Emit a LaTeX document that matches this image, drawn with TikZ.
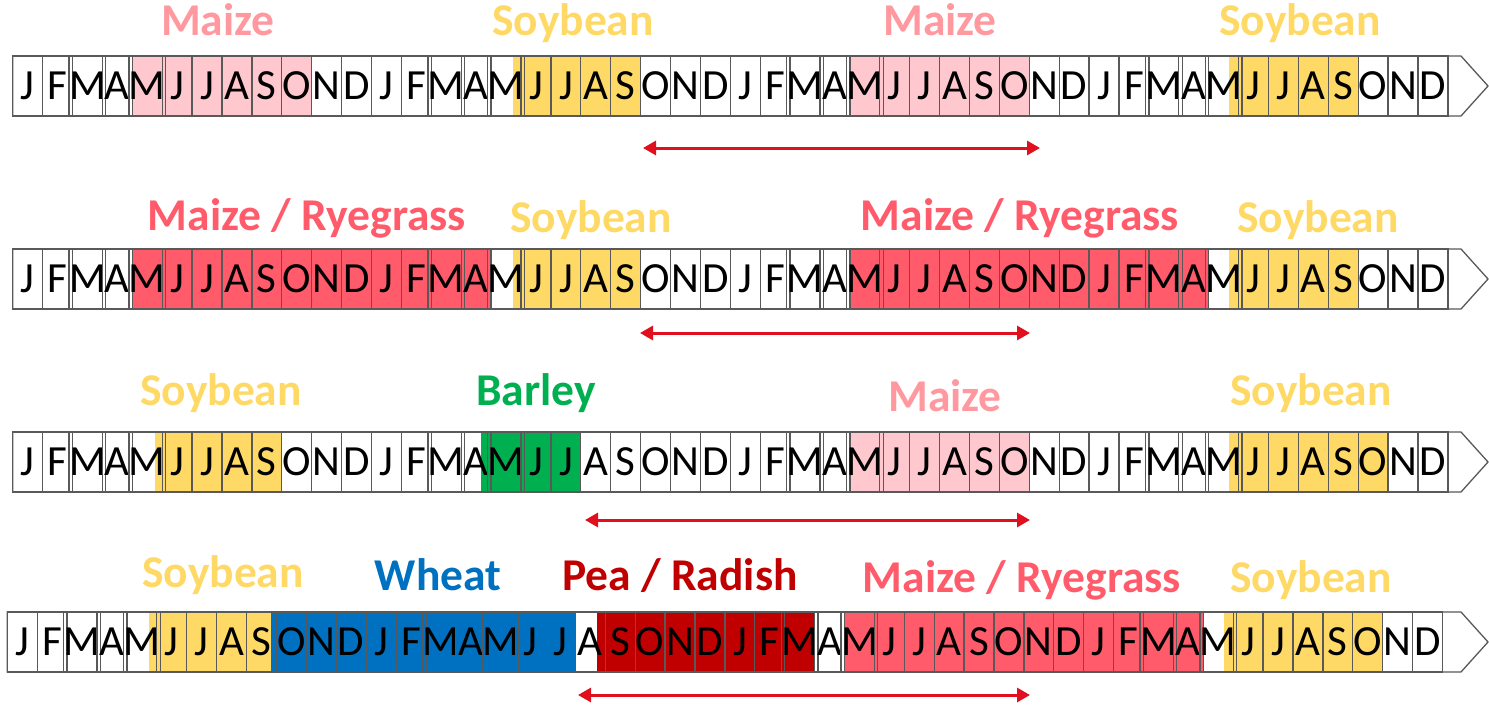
\documentclass[tikz,border=0pt]{standalone}
\usepackage{fontspec}
\setmainfont{Carlito}
\usetikzlibrary{arrows.meta}

\definecolor{cellgray}{HTML}{595959}
\definecolor{maizefill}{HTML}{FFC7CE}
\definecolor{maizetext}{HTML}{FF999F}
\definecolor{soyfill}{HTML}{FFD966}
\definecolor{ryefill}{HTML}{FF5B6B}
\definecolor{barleyfill}{HTML}{00B050}
\definecolor{wheatfill}{HTML}{0070C0}
\definecolor{peafill}{HTML}{C00000}
\definecolor{spanred}{HTML}{E0101E}

% width of one month cell
\def\cw{29.9}

\tikzset{
  cell/.style={draw=cellgray, line width=1.3pt, minimum width=29.9pt,
    minimum height=60pt, inner sep=0pt, text height=27pt, text depth=0pt,
    font=\fontsize{43}{43}\selectfont},
  crop/.style={anchor=base, inner sep=0pt, font=\bfseries\fontsize{45.5}{45.5}\selectfont},
  timeline/.style={draw=cellgray, line width=1.3pt, fill=white},
  span/.style={draw=spanred, line width=3pt,
    {Triangle[length=13pt,width=14pt]}-{Triangle[length=13pt,width=14pt]}}
}

% arrow-shaped strip behind a row of months: #1 left x, #2 top y
\newcommand\stripbody[2]{%
  \draw[timeline] (#1,#2) -- (1461,#2) -- (1488,#2+30) -- (1461,#2+60) -- (#1,#2+60) -- cycle;}

% coloured growing period: #1 left x, #2 top y, #3 start cell, #4 end cell, #5 colour
\newcommand\season[5]{%
  \fill[#5] ({#1+#3*\cw},#2) rectangle ({#1+#4*\cw},#2+60);}

% the 48 month cells of one row: #1 name prefix, #2 left x, #3 top y
\newcommand\monthrow[3]{%
  \foreach \m [count=\i] in {J,F,M,A,M,J,J,A,S,O,N,D,J,F,M,A,M,J,J,A,S,O,N,D,%
                             J,F,M,A,M,J,J,A,S,O,N,D,J,F,M,A,M,J,J,A,S,O,N,D}
    \node[cell] (#1c\i) at ({#2+(\i-0.5)*\cw},{#3+30}) {\m};}

\begin{document}
\begin{tikzpicture}[x=1pt, y=-1pt]
\useasboundingbox (0,0) rectangle (1489,709);

% ---- row 1: maize / soybean
\stripbody{12.7}{56}
\season{12.7}{56}{4}{10}{maizefill}
\season{12.7}{56}{16.73}{21}{soyfill}
\season{12.7}{56}{28}{34}{maizefill}
\season{12.7}{56}{40.68}{45}{soyfill}
\monthrow{a}{12.7}{56}
\node[crop, text=maizetext] (a1) at (218,36) {Maize};
\node[crop, text=soyfill] (a2) at (573,36) {Soybean};
\node[crop, text=maizetext] (a3) at (940,36) {Maize};
\node[crop, text=soyfill] (a4) at (1300,36) {Soybean};
\coordinate (aL) at (643,148);
\coordinate (aR) at (1040,148);
\draw[span] (aL) -- (aR);

% ---- row 2: maize with ryegrass / soybean
\stripbody{12.7}{249}
\season{12.7}{249}{4}{16}{ryefill}
\season{12.7}{249}{16.73}{21}{soyfill}
\season{12.7}{249}{28}{40}{ryefill}
\season{12.7}{249}{40.68}{45}{soyfill}
\monthrow{b}{12.7}{249}
\node[crop, text=ryefill] (b1) at (307,230) {Maize / Ryegrass};
\node[crop, text=soyfill] (b2) at (591,232) {Soybean};
\node[crop, text=ryefill] (b3) at (1020,230) {Maize / Ryegrass};
\node[crop, text=soyfill] (b4) at (1318,232) {Soybean};
\coordinate (bL) at (640,333);
\coordinate (bR) at (1030,333);
\draw[span] (bL) -- (bR);

% ---- row 3: soybean / barley / maize / soybean
\stripbody{12.7}{432}
\season{12.7}{432}{4.76}{9}{soyfill}
\season{12.7}{432}{15.66}{19}{barleyfill}
\season{12.7}{432}{28}{34}{maizefill}
\season{12.7}{432}{40.68}{46}{soyfill}
\monthrow{c}{12.7}{432}
\node[crop, text=soyfill] (c1) at (221,405) {Soybean};
\node[crop, text=barleyfill] (c2) at (536,405) {Barley};
\node[crop, text=maizetext] (c3) at (945,411) {Maize};
\node[crop, text=soyfill] (c4) at (1311,405) {Soybean};
\coordinate (cL) at (585,520);
\coordinate (cR) at (1030,520);
\draw[span] (cL) -- (cR);

% ---- row 4: soybean / wheat / pea with radish / maize with ryegrass / soybean
\stripbody{7.3}{612}
\season{7.3}{612}{4.74}{8.81}{soyfill}
\season{7.3}{612}{8.81}{19}{wheatfill}
\season{7.3}{612}{19.71}{27}{peafill}
\season{7.3}{612}{28}{40}{ryefill}
\season{7.3}{612}{40.69}{46}{soyfill}
\monthrow{d}{7.3}{612}
\node[crop, text=soyfill] (d1) at (223,587) {Soybean};
\node[crop, text=wheatfill] (d2) at (438,590) {Wheat};
\node[crop, text=peafill] (d3) at (680,590) {Pea / Radish};
\node[crop, text=ryefill] (d4) at (1022,592) {Maize / Ryegrass};
\node[crop, text=soyfill] (d5) at (1311,592) {Soybean};
\coordinate (dL) at (578,695);
\coordinate (dR) at (1030,695);
\draw[span] (dL) -- (dR);
\end{tikzpicture}
\end{document}
